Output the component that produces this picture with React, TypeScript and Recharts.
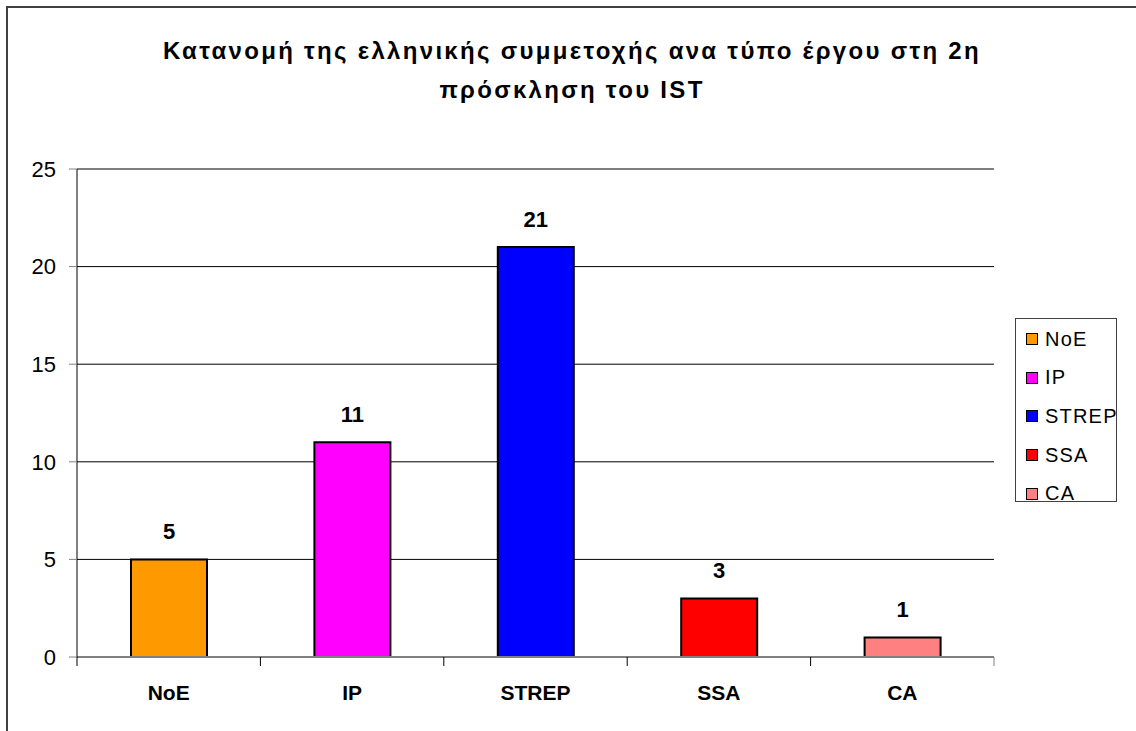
import React from 'react';
import { BarChart, Bar, XAxis, YAxis, CartesianGrid, Cell, LabelList } from 'recharts';

const categories = ['NoE', 'IP', 'STREP', 'SSA', 'CA'];
const counts = [5, 11, 21, 3, 1];
const barColors = ['#FF9900', '#FF00FF', '#0000FF', '#FF0000', '#FF8080'];
const yTicks = [0, 5, 10, 15, 20, 25];
const titleLines = ['Κατανομή της ελληνικής συμμετοχής ανα τύπο έργου στη 2η', 'πρόσκληση του IST'];

const data = categories.map((name, i) => ({ name, value: counts[i] }));

const FONT = '"Liberation Sans", Arial, sans-serif';

const CategoryTick = (props: any) => {
    const { x, y, payload, index } = props;
    const half = payload?.offset ?? 91.7;
    return (
        <g>
            <line x1={x - half} y1={y} x2={x - half} y2={y + 9} stroke="#000" strokeWidth={1} />
            {index === categories.length - 1 && (
                <line x1={x + half} y1={y} x2={x + half} y2={y + 9} stroke="#808080" strokeWidth={1} />
            )}
            <text x={x} y={y + 43} textAnchor="middle" fontFamily={FONT} fontWeight="bold" fontSize={21} fill="#000">
                {payload.value}
            </text>
        </g>
    );
};

export default function App() {
    return (
        <div style={{ position: 'fixed', left: 0, top: 0, width: 1136, height: 731, overflow: 'hidden', background: '#fff', fontFamily: FONT }}>
            <div style={{ position: 'absolute', left: 6, top: 6, width: 1200, height: 800, border: '2px solid #404040' }} />

            <div style={{ position: 'absolute', left: 0, width: 1144, top: 31, textAlign: 'center', fontWeight: 'bold', fontSize: 24, lineHeight: '39px', letterSpacing: 2.3, color: '#000' }}>
                {titleLines.map(line => <div key={line}>{line}</div>)}
            </div>

            <div style={{ position: 'absolute', left: 0, top: 0 }}>
                <BarChart width={1136} height={731} data={data} margin={{ top: 169, right: 142, left: 17, bottom: 34 }}>
                    <CartesianGrid vertical={false} stroke="#000" strokeWidth={1} />
                    <XAxis
                        dataKey="name"
                        height={40}
                        axisLine={{ stroke: '#808080', strokeWidth: 2 }}
                        tickLine={false}
                        tickSize={0}
                        tickMargin={0}
                        tick={<CategoryTick />}
                        interval={0}
                    />
                    <YAxis
                        width={60}
                        domain={[0, 25]}
                        ticks={yTicks}
                        interval={0}
                        axisLine={{ stroke: '#000', strokeWidth: 1 }}
                        tickLine={{ stroke: '#808080' }}
                        tickSize={8}
                        tickMargin={13}
                        tick={{ fill: '#000', fontSize: 22, fontFamily: FONT }}
                    />
                    <Bar dataKey="value" barSize={76} stroke="#000" strokeWidth={2} isAnimationActive={false}>
                        {data.map((d, i) => (
                            <Cell key={d.name} fill={barColors[i]} />
                        ))}
                        <LabelList dataKey="value" position="top" offset={20} fill="#000" fontSize={22} fontWeight="bold" fontFamily={FONT} />
                    </Bar>
                </BarChart>
            </div>

            <div style={{ position: 'absolute', left: 1015, top: 318, width: 100, height: 182, border: '1px solid #404040', background: '#fff', boxSizing: 'content-box' }}>
                {categories.map((name, i) => (
                    <div key={name} style={{ position: 'absolute', left: 10, top: 8 + i * 38.7, height: 24, display: 'flex', alignItems: 'center' }}>
                        <span style={{ width: 10, height: 10, background: barColors[i], border: '1px solid #000', marginRight: 7 }} />
                        <span style={{ fontSize: 20, letterSpacing: 1.2, color: '#000' }}>{name}</span>
                    </div>
                ))}
            </div>
        </div>
    );
}
